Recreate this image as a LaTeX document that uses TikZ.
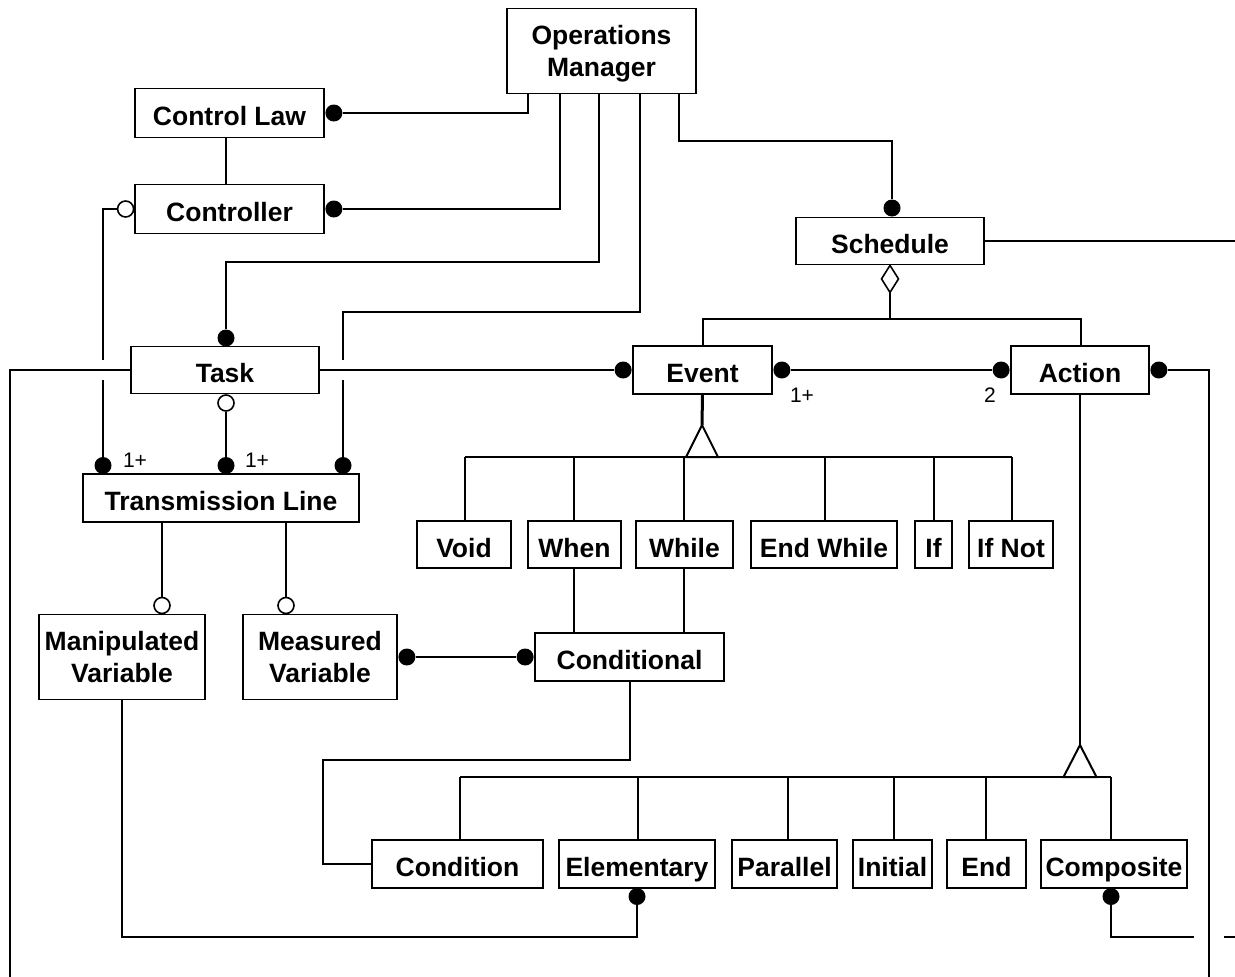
\documentclass[tikz,border=0pt]{standalone}
\usepackage{fontspec}
\setmainfont{Liberation Sans}
\usetikzlibrary{calc,backgrounds}
\begin{document}
\begin{tikzpicture}[x=1pt,y=-1pt,
  box/.style={draw, line width=1.8pt, fill=white, inner sep=0pt,
    font=\fontsize{26.5}{32}\selectfont\bfseries, text height=25pt, text depth=0pt},
  boxtwo/.style={draw, line width=1.8pt, fill=white, inner sep=0pt, align=center,
    font=\fontsize{26.5}{32}\selectfont\bfseries, text depth=0pt},
  conn/.style={line width=2pt},
  bridge/.style={conn, preaction={draw=white, line width=#1}},
  dot/.style={fill, circle, inner sep=0pt, minimum size=17pt},
  odot/.style={draw, fill=white, circle, line width=1.6pt, inner sep=0pt, minimum size=16pt},
  tri/.style={draw, fill=white, line width=2pt},
  lbl/.style={font=\fontsize{21}{24}\selectfont, inner sep=0pt},
]
\useasboundingbox (0,0) rectangle (1235,977);

% boxes
\node[boxtwo, minimum width=189pt, minimum height=85pt] (om) at (601.5,51) {Operations\\Manager};
\node[box, minimum width=189pt, minimum height=49pt] (cl) at (229.5,113) {Control Law};
\node[box, minimum width=189pt, minimum height=49pt] (ctrl) at (229.5,209) {Controller};
\node[box, minimum width=188pt, minimum height=47pt] (task) at (225,370) {Task};
\node[box, minimum width=276pt, minimum height=48pt] (tl) at (221,498) {Transmission Line};
\node[boxtwo, minimum width=166pt, minimum height=85pt] (mv) at (122,657) {Manipulated\\Variable};
\node[boxtwo, minimum width=154pt, minimum height=85pt] (msv) at (320,657) {Measured\\Variable};
\node[box, minimum width=188pt, minimum height=47pt] (sched) at (890,241) {Schedule};
\node[box, minimum width=139pt, minimum height=48pt] (event) at (702.5,370) {Event};
\node[box, minimum width=138pt, minimum height=48pt] (action) at (1080,370) {Action};
\node[box, minimum width=94pt, minimum height=47pt] (void) at (464,544.5) {Void};
\node[box, minimum width=93pt, minimum height=47pt] (when) at (574.5,544.5) {When};
\node[box, minimum width=97pt, minimum height=47pt] (while) at (684.5,544.5) {While};
\node[box, minimum width=146pt, minimum height=47pt] (endwhile) at (824,544.5) {End While};
\node[box, minimum width=37pt, minimum height=47pt] (if) at (933.5,544.5) {If};
\node[box, minimum width=84pt, minimum height=47pt] (ifnot) at (1011,544.5) {If Not};
\node[box, minimum width=189pt, minimum height=48pt] (cond) at (629.5,657) {Conditional};
\node[box, minimum width=171pt, minimum height=48pt] (condition) at (457.5,864) {Condition};
\node[box, minimum width=156pt, minimum height=48pt] (elem) at (637,864) {Elementary};
\node[box, minimum width=105pt, minimum height=48pt] (par) at (784.5,864) {Parallel};
\node[box, minimum width=79pt, minimum height=48pt] (init) at (892.5,864) {Initial};
\node[box, minimum width=79pt, minimum height=48pt] (end) at (986.5,864) {End};
\node[box, minimum width=146pt, minimum height=48pt] (comp) at (1114,864) {Composite};

% role markers
\node[dot] (dcl) at ($(cl.east)+(9,0)$) {};
\node[dot] (dctrl) at ($(ctrl.east)+(9,0)$) {};
\node[odot] (octrl) at ($(ctrl.west)+(-8.5,0)$) {};
\node[dot] (dtask) at (226,338) {};
\node[odot] (otask) at (226,403) {};
\node[dot] (dtla) at (103,465.5) {};
\node[dot] (dtlb) at (226,465.5) {};
\node[dot] (dtlc) at (343,465.5) {};
\node[odot] (omv) at (162,605.5) {};
\node[odot] (omsv) at (286,605.5) {};
\node[dot] (dmsv) at ($(msv.east)+(9,0)$) {};
\node[dot] (dcond) at ($(cond.west)+(-9,0)$) {};
\node[dot] (dsched) at (892,208) {};
\node[dot] (devw) at ($(event.west)+(-9,0)$) {};
\node[dot] (deve) at ($(event.east)+(9,0)$) {};
\node[dot] (dacw) at ($(action.west)+(-9,0)$) {};
\node[dot] (dace) at ($(action.east)+(9,0)$) {};
\node[dot] (delem) at (637,896.5) {};
\node[dot] (dcomp) at (1111,896.5) {};

% aggregation diamond and inheritance triangles
\draw[tri, line width=1.6pt] (sched.south) -- ++(8.5,13.5) -- ++(-8.5,13.5) coordinate (dia) -- ++(-8.5,-13.5) -- cycle;
\draw[tri] (702,425) coordinate (tea) -- (718,457) -- (686,457) -- cycle;
\draw[tri] (1080,745) coordinate (taa) -- (1096.5,777) -- (1063.5,777) -- cycle;

% multiplicities
\node[lbl] (m1) at (135,460) {1+};
\node[lbl] (m2) at (257,460) {1+};
\node[lbl] (m3) at (802,395) {1+};
\node[lbl] (m4) at (990,395) {2};

\begin{scope}[on background layer]
  % lines that are crossed by bridges
  \draw[conn] (octrl) -| (dtla);
  \draw[conn] (om.south -| 640,0) |- (343,312) -- (dtlc);
  \draw[conn] (dcomp) |- (1235,937);
  % bridging lines
  \draw[bridge=20pt] (task.west) -| (10,977);
  \draw[bridge=20pt] (task.east) -- (devw);
  \draw[bridge=30pt] (dace) -| (1209,977);
  % other connectors
  \draw[conn] (om.south -| 528,0) |- (dcl);
  \draw[conn] (om.south -| 560,0) |- (dctrl);
  \draw[conn] (om.south -| 599,0) |- (226,262) -- (dtask);
  \draw[conn] (om.south -| 679,0) |- (892,141) -- (dsched);
  \draw[conn] (sched.east) -- (1235,241);
  \draw[conn] (cl.south -| 226,0) -- (ctrl.north -| 226,0);
  \draw[conn] (otask) -- (dtlb);
  \draw[conn] (tl.south -| omv) -- (omv);
  \draw[conn] (tl.south -| omsv) -- (omsv);
  \draw[conn] (dmsv) -- (dcond);
  \draw[conn] (deve) -- (dacw);
  \draw[conn] (dia) -- (dia |- 0,319);
  \draw[conn] (event.north) |- (1081,319) -- (action.north -| 1081,0);
  % event generalisation
  \draw[line width=3pt] (event.south) -- (tea);
  \draw[conn] (465,457) -- (1012,457);
  \foreach \n/\x in {void/465, when/574, while/684, endwhile/825, if/934, ifnot/1012}
    \draw[conn] (\x,457) -- (\n.north -| \x,0);
  \draw[conn] (when.south -| 574,0) -- (cond.north -| 574,0);
  \draw[conn] (while.south -| 684,0) -- (cond.north -| 684,0);
  \draw[conn] (cond.south -| 630,0) |- (323,760) |- (condition.west);
  \draw[conn] (mv.south) |- (637,937) -- (delem);
  % action generalisation
  \draw[conn] (action.south) -- (taa);
  \draw[conn] (460,777) -- (1111,777);
  \foreach \n/\x in {condition/460, elem/638, par/788, init/894, end/986, comp/1111}
    \draw[conn] (\x,777) -- (\n.north -| \x,0);
\end{scope}
\end{tikzpicture}
\end{document}
